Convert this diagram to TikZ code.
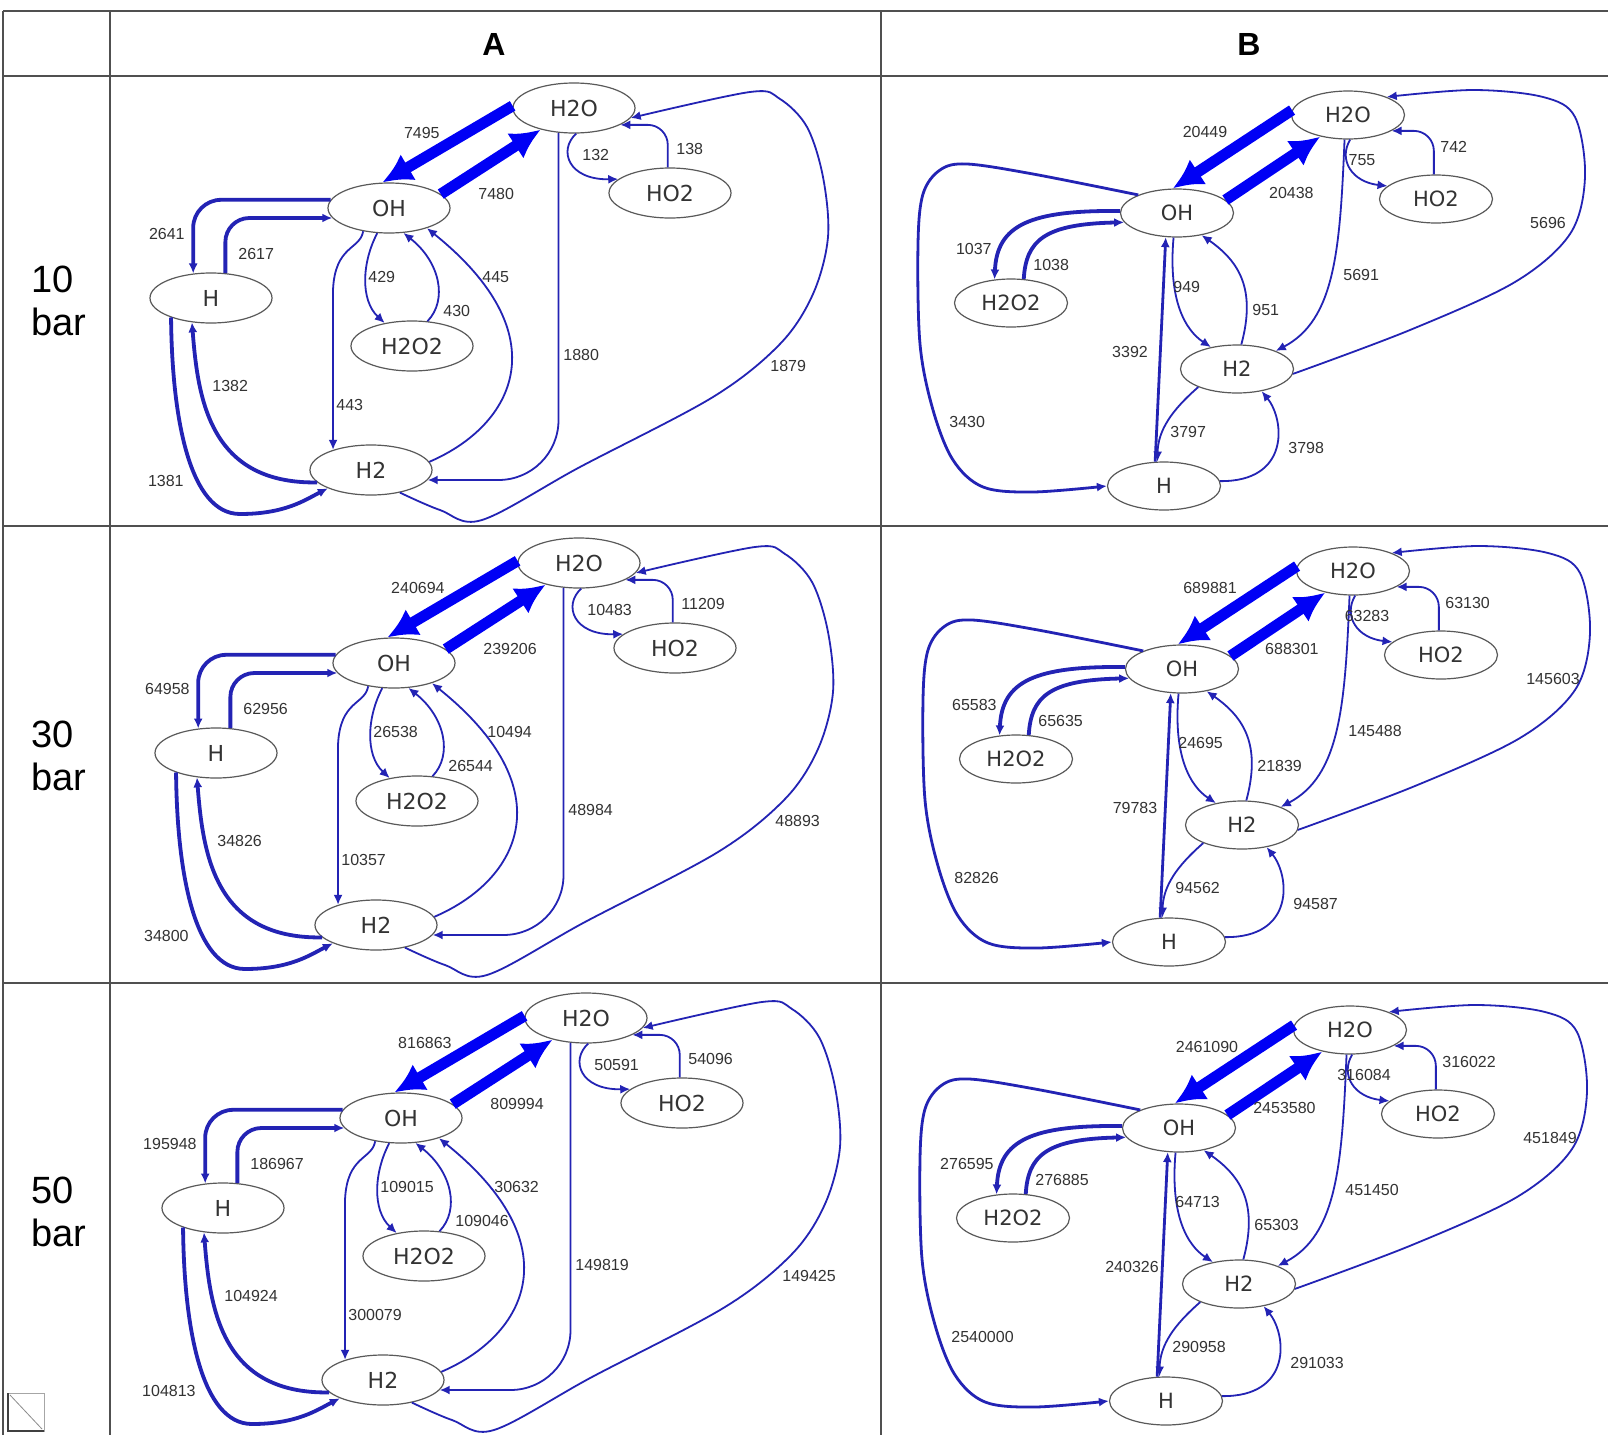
\documentclass[tikz,border=0pt]{standalone}
\usepackage{fontspec}
\setmainfont{Liberation Sans}
\newfontfamily\spfont{DejaVu Sans}
\usepackage{tikz}
\usetikzlibrary{arrows.meta,shapes.geometric}
\definecolor{rulegray}{RGB}{80,80,80}
\definecolor{edgeblue}{RGB}{35,35,180}
\definecolor{fatblue}{RGB}{0,0,245}

\begin{document}
\begin{tikzpicture}[
    x=0.5pt,y=-0.5pt,
    spA/.style={ellipse,draw=black!65,line width=0.6pt,fill=white,minimum width=61pt,minimum height=25pt,inner sep=0pt,text=black!80,font=\spfont\fontsize{11}{13}\selectfont},
    spB/.style={spA,minimum width=56.5pt,minimum height=24pt,font=\spfont\fontsize{10.5}{12}\selectfont},
    flow/.style={-{Latex[length=5pt,width=4.5pt]},edgeblue,line width=0.9pt},
    midflow/.style={flow,line width=1.9pt},
    fat/.style={-{Latex[length=15pt,width=15pt]},fatblue,line width=5.5pt},
    num/.style={anchor=west,inner sep=0pt,text=black!80,font=\fontsize{8}{9}\selectfont},
    tableline/.style={rulegray,line width=0.8pt},
    rowlab/.style={anchor=west,align=left,inner sep=0pt,font=\fontsize{19}{21.5}\selectfont},
    colhead/.style={font=\bfseries\fontsize{16}{18}\selectfont}]
\fill[white] (0,0) rectangle (1608,1435);
\useasboundingbox (0,0) rectangle (1608,1435);
% table frame
\foreach \y in {11,76,526,983} \draw[tableline] (3,\y) -- (1608,\y);
\foreach \x in {3,110,881} \draw[tableline] (\x,11) -- (\x,1435);
\node[colhead] (headA) at (494,44) {A};
\node[colhead] (headB) at (1249,44) {B};
\foreach \r/\p/\y in {1/10/301,2/30/756,3/50/1212}
  \node[rowlab] (bar\r) at (31,\y) {\p\\bar};
% small icon bottom left
\draw[black!35] (8,1393) rectangle (44,1431);
\draw[black!45] (10,1395) -- (42,1429);
\draw[black!75,line width=1pt] (8,1393) -- (8,1431) -- (44,1431);
% column A (3 pressures)
\foreach \r/\dx/\dy/\eWO/\eOW/\eOH/\eHO/\eOP/\ePO/\eDO/\eDH/\eOD/\eHD/\eWD/\eDW/\eWQ/\eQW in {
  1/0/0/7495/7480/2641/2617/429/430/445/1382/443/1381/1880/1879/132/138,
  2/5/455/240694/239206/64958/62956/26538/26544/10494/34826/10357/34800/48984/48893/10483/11209,
  3/12/910/816863/809994/195948/186967/109015/109046/30632/104924/300079/104813/149819/149425/50591/54096} {
\begin{scope}[shift={(\dx,\dy)}]
  \node[spA] (A\r-OH)   at (389,208) {OH};
  \node[spA] (A\r-H)    at (211,298) {H};
  \node[spA] (A\r-H2O2) at (412,346) {H2O2};
  \node[spA] (A\r-H2)   at (371,470) {H2};
  \node[spA] (A\r-H2O)  at (574,108) {H2O};
  \node[spA] (A\r-HO2)  at (670,193) {HO2};
  % OH <-> H2O
  \draw[fat] (A\r-H2O.178) -- (A\r-OH.105);
  \draw[fat] (A\r-OH.15) -- (A\r-H2O.213);
  % OH <-> H, H <-> H2
  \draw[midflow,rounded corners=14pt] (A\r-OH.172) -| (A\r-H.126);
  \draw[midflow,rounded corners=12pt] (A\r-H.60) |- (A\r-OH.190);
  \draw[midflow] (A\r-H2.193) .. controls (210,484) and (198,400) .. (A\r-H.232);
  \draw[midflow] (A\r-H.206) .. controls (172,420) and (190,514) .. (240,514)
                 .. controls (285,514) and (305,500) .. (A\r-H2.203);
  % OH <-> H2O2, OH <-> H2
  \draw[flow] (A\r-OH.222) .. controls (360,250) and (335,245) .. (333,290) -- (A\r-H2.152);
  \draw[flow] (A\r-OH.245) .. controls (362,262) and (360,300) .. (A\r-H2O2.140);
  \draw[flow] (A\r-H2O2.58) .. controls (448,300) and (440,262) .. (A\r-OH.300);
  \draw[flow] (A\r-H2.8) .. controls (515,425) and (560,335) .. (A\r-OH.332);
  % H2O <-> H2
  \draw[flow,rounded corners=30pt] (A\r-H2O.238) |- (A\r-H2.350);
  \draw[flow] plot[smooth,tension=0.55] coordinates {(A\r-H2.322) (440,510) (482,520)
      (580,467) (713,397) (780,344) (813,294) (828,237) (823,177) (807,127) (780,99)
      (750,92) (A\r-H2O.350)};
  % H2O <-> HO2
  \draw[flow] (A\r-H2O.275) .. controls (558,150) and (568,180) .. (A\r-HO2.165);
  \draw[flow,rounded corners=10pt] (A\r-HO2.95) |- (A\r-H2O.340);
  % rates
  \node[num,anchor=east] (A\r-nWO) at (440,133) {\eWO};
  \node[num] (A\r-nOW) at (478,194) {\eOW};
  \node[num,anchor=east] (A\r-nOH) at (185,234) {\eOH};
  \node[num] (A\r-nHO) at (238,254) {\eHO};
  \node[num] (A\r-nOP) at (368,277) {\eOP};
  \node[num] (A\r-nPO) at (443,311) {\ePO};
  \node[num] (A\r-nDO) at (482,277) {\eDO};
  \node[num] (A\r-nDH) at (212,386) {\eDH};
  \node[num] (A\r-nOD) at (336,405) {\eOD};
  \node[num,anchor=east] (A\r-nHD) at (184,481) {\eHD};
  \node[num] (A\r-nWD) at (563,355) {\eWD};
  \node[num] (A\r-nDW) at (770,366) {\eDW};
  \node[num] (A\r-nWQ) at (582,155) {\eWQ};
  \node[num] (A\r-nQW) at (676,149) {\eQW};
\end{scope}
}
% column B (3 pressures)
\foreach \r/\dx/\dy/\eWO/\eOW/\eOP/\ePO/\eHO/\eOD/\eDO/\eDW/\eDWx/\eWQ/\eQW/\eHD/\eHDx/\eOHx in {
  1/0/0/20449/20438/1037/1038/3392/949/951/5691/5696/755/742/3797/3798/3430,
  2/5/456/689881/688301/65583/65635/79783/24695/21839/145488/145603/63283/63130/94562/94587/82826,
  3/2/915/2461090/2453580/276595/276885/240326/64713/65303/451450/451849/316084/316022/290958/291033/2540000} {
\begin{scope}[shift={(\dx,\dy)}]
  \node[spB] (B\r-OH)   at (1177,213) {OH};
  \node[spB] (B\r-H2O2) at (1011,303) {H2O2};
  \node[spB] (B\r-H2)   at (1237,369) {H2};
  \node[spB] (B\r-H)    at (1164,486) {H};
  \node[spB] (B\r-H2O)  at (1348,115) {H2O};
  \node[spB] (B\r-HO2)  at (1436,199) {HO2};
  % OH <-> H2O
  \draw[fat] (B\r-H2O.175) -- (B\r-OH.100);
  \draw[fat] (B\r-OH.15) -- (B\r-H2O.218);
  % OH <-> H2O2
  \draw[midflow] (B\r-OH.178) .. controls (1030,210) and (997,225) .. (B\r-H2O2.125);
  \draw[midflow] (B\r-H2O2.62) .. controls (1026,240) and (1045,224) .. (B\r-OH.190);
  % OH <-> H, OH <-> H2
  \draw[flow,line width=1.4pt] (B\r-H.110) -- (B\r-OH.245);
  \draw[flow] (B\r-OH.262) .. controls (1168,300) and (1185,330) .. (B\r-H2.140);
  \draw[flow] (B\r-H2.80) .. controls (1256,290) and (1240,262) .. (B\r-OH.318);
  \draw[flow,line width=1.4pt] plot[smooth,tension=0.55] coordinates {(B\r-OH.155)
      (1033,174) (967,164) (940,170) (923,194) (918,244) (920,344) (933,410) (953,460)
      (983,487) (1033,492) (B\r-H.180)};
  % H2 <-> H2O
  \draw[flow] (B\r-H2O.262) .. controls (1340,250) and (1335,320) .. (B\r-H2.25);
  \draw[flow] plot[smooth,tension=0.55] coordinates {(B\r-H2.355) (1410,330) (1515,282)
      (1570,234) (1585,177) (1575,117) (1543,97) (1473,90) (B\r-H2O.25)};
  % H2O <-> HO2
  \draw[flow] (B\r-H2O.275) .. controls (1338,160) and (1352,182) .. (B\r-HO2.165);
  \draw[flow,rounded corners=10pt] (B\r-HO2.95) |- (B\r-H2O.340);
  % H <-> H2
  \draw[flow] (B\r-H2.205) .. controls (1172,410) and (1158,430) .. (B\r-H.105);
  \draw[flow] (B\r-H.5) .. controls (1290,482) and (1285,420) .. (B\r-H2.318);
  % rates
  \node[num,anchor=center] (B\r-nWO) at (1205,132) {\eWO};
  \node[num,anchor=east] (B\r-nOW) at (1314,193) {\eOW};
  \node[num,anchor=east] (B\r-nOP) at (992,249) {\eOP};
  \node[num] (B\r-nPO) at (1033,265) {\ePO};
  \node[num,anchor=center] (B\r-nHO) at (1130,352) {\eHO};
  \node[num] (B\r-nOD) at (1173,287) {\eOD};
  \node[num] (B\r-nDO) at (1252,310) {\eDO};
  \node[num] (B\r-nDW) at (1343,275) {\eDW};
  \node[num,anchor=center] (B\r-nDWx) at (1548,223) {\eDWx};
  \node[num,anchor=center] (B\r-nWQ) at (1362,160) {\eWQ};
  \node[num] (B\r-nQW) at (1440,147) {\eQW};
  \node[num] (B\r-nHD) at (1170,432) {\eHD};
  \node[num] (B\r-nHDx) at (1288,448) {\eHDx};
  \node[num] (B\r-nOHx) at (949,422) {\eOHx};
\end{scope}
}
\end{tikzpicture}
\end{document}
